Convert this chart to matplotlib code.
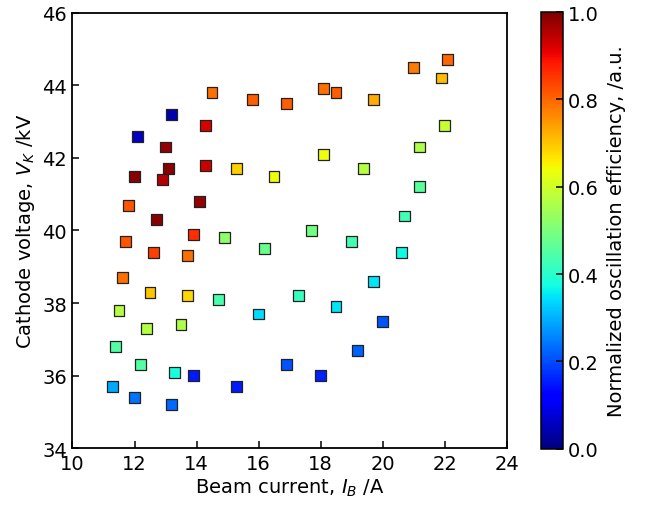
import numpy as np
import matplotlib
matplotlib.use("Agg")
import matplotlib.pyplot as plt

# beam current (A), cathode voltage (kV), normalized efficiency
beam_current = [14.5, 15.8, 16.9, 18.1, 18.5, 19.7, 21.0, 22.1, 21.9, 13.2,
                12.1, 14.3, 13.0, 14.3, 13.1, 12.0, 12.9, 15.3, 16.5, 18.1,
                19.4, 22.0, 21.2, 21.2, 11.8, 14.1, 12.7, 13.9, 14.9, 11.7,
                16.2, 12.6, 13.7, 11.6, 12.5, 13.7, 14.7, 11.5, 16.0, 13.5,
                12.4, 11.4, 12.2, 13.3, 13.9, 11.3, 15.3, 12.0, 13.2, 17.7,
                19.0, 20.7, 20.6, 19.7, 17.3, 18.5, 20.0, 19.2, 16.9, 18.0]
cathode_voltage = [43.8, 43.6, 43.5, 43.9, 43.8, 43.6, 44.5, 44.7, 44.2, 43.2,
                   42.6, 42.9, 42.3, 41.8, 41.7, 41.5, 41.4, 41.7, 41.5, 42.1,
                   41.7, 42.9, 42.3, 41.2, 40.7, 40.8, 40.3, 39.9, 39.8, 39.7,
                   39.5, 39.4, 39.3, 38.7, 38.3, 38.2, 38.1, 37.8, 37.7, 37.4,
                   37.3, 36.8, 36.3, 36.1, 36.0, 35.7, 35.7, 35.4, 35.2, 40.0,
                   39.7, 40.4, 39.4, 38.6, 38.2, 37.9, 37.5, 36.7, 36.3, 36.0]
efficiency = [0.79, 0.81, 0.81, 0.79, 0.81, 0.73, 0.78, 0.80, 0.71, 0.04,
              0.06, 0.92, 0.98, 0.93, 0.99, 0.99, 0.95, 0.69, 0.64, 0.64,
              0.57, 0.59, 0.56, 0.46, 0.82, 0.98, 0.99, 0.86, 0.52, 0.82,
              0.48, 0.84, 0.79, 0.79, 0.70, 0.68, 0.44, 0.57, 0.34, 0.56,
              0.57, 0.45, 0.45, 0.38, 0.15, 0.29, 0.15, 0.24, 0.23, 0.49,
              0.43, 0.43, 0.37, 0.35, 0.42, 0.35, 0.21, 0.22, 0.21, 0.16]

plt.rcParams['font.family'] = ['DejaVu Sans']
plt.rcParams['font.size'] = 14
plt.rcParams['mathtext.fontset'] = 'dejavusans'

fig = plt.figure(figsize=(6.45, 5.06), dpi=100)
ax = fig.add_axes([0.1124, 0.112, 0.6729, 0.861])
cax = fig.add_axes([0.838, 0.111, 0.0352, 0.863])

sc = ax.scatter(beam_current, cathode_voltage, c=efficiency, cmap='jet',
                vmin=0, vmax=1, marker='s', s=62,
                edgecolors='#222222', linewidths=0.9, zorder=3)

ax.set_xlim(10, 24)
ax.set_ylim(34, 46)
ax.set_xticks(np.arange(10, 25, 2))
ax.set_yticks(np.arange(34, 47, 2))
ax.tick_params(direction='in', length=5, width=1.1, top=False, right=False,
               pad=4)
for sp in ax.spines.values():
    sp.set_linewidth(1.3)
ax.set_xlabel('Beam current, $I_B$ /A', labelpad=3)
ax.set_ylabel('Cathode voltage, $V_K$ /kV', labelpad=4)

cb = fig.colorbar(sc, cax=cax, ticks=[0, 0.2, 0.4, 0.6, 0.8, 1.0])
cb.ax.tick_params(direction='in', length=5, width=1.1)
cb.outline.set_linewidth(1.1)
cb.set_label('Normalized oscillation efficiency, /a.u.', labelpad=6)

fig.savefig('out.png', dpi=100)
